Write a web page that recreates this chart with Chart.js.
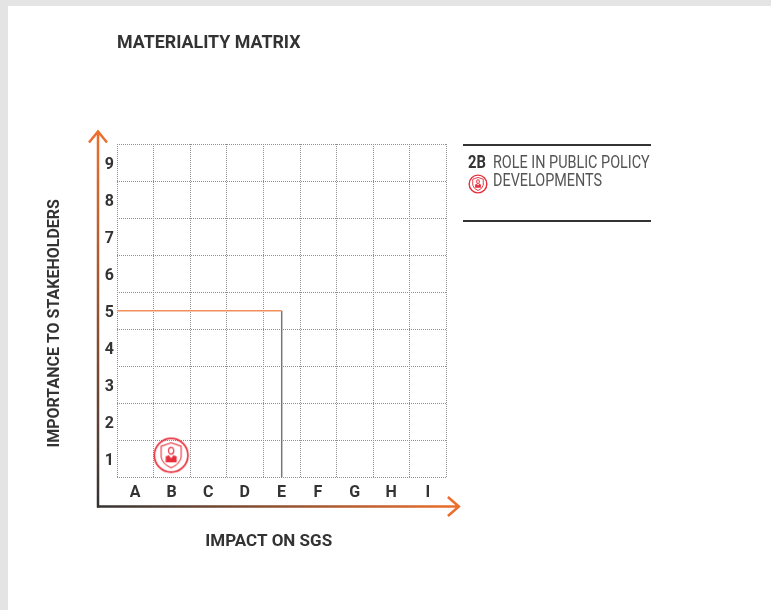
<!DOCTYPE html>
<html>
<head>
<meta charset="utf-8">
<title>Materiality Matrix</title>
<script src="https://cdn.jsdelivr.net/npm/chart.js@4"></script>
<style>
  html, body { margin: 0; padding: 0; background: #e4e4e4; overflow: hidden; }
  #sheet { position: absolute; left: 8px; top: 6px; width: 763px; height: 604px; background: #fff; }
  #matrix { position: absolute; left: 0; top: 0; }
  .txt { position: absolute; white-space: nowrap; font-family: "Roboto", sans-serif; transform-origin: left top; }
  #heading { left: 117px; top: 31px; font-size: 18px; line-height: 22px; font-weight: 700; color: #333; transform: scaleX(0.99); }
  .rule { position: absolute; left: 463px; width: 188px; height: 2px; background: #333; }
  #code { left: 468px; top: 153px; font-size: 18px; line-height: 18px; font-weight: 700; color: #333; transform: scaleX(0.82); }
  #topic { left: 493px; top: 153px; font-size: 18px; line-height: 18px; color: #555; transform: scaleX(0.8); }
  #topicIcon { position: absolute; left: 468px; top: 174px; }
</style>
</head>
<body>
<div id="sheet"></div>
<canvas id="matrix" width="771" height="610"></canvas>
<div class="txt" id="heading">MATERIALITY MATRIX</div>
<div class="rule" style="top:144px"></div>
<div class="rule" style="top:220px"></div>
<div class="txt" id="code">2B</div>
<div class="txt" id="topic">ROLE IN PUBLIC POLICY<br>DEVELOPMENTS</div>
<script>
const impactLabels = ['A', 'B', 'C', 'D', 'E', 'F', 'G', 'H', 'I'];
const importanceLabels = ['1', '2', '3', '4', '5', '6', '7', '8', '9'];
const xAxisName = 'IMPACT ON SGS';
const yAxisName = 'IMPORTANCE TO STAKEHOLDERS';

// scale runs half a cell past the first and last category
const axisMin = 0.5;
const axisMax = 9.5;
const gridValues = [0.5, 1.5, 2.5, 3.5, 4.5, 5.5, 6.5, 7.5, 8.5, 9.5];

// guide lines down to the E / 5 crossing
const guideAcrossX = [0.5, 5];
const guideAcrossY = [5, 5];
const guideDownX = [5, 5];
const guideDownY = [5, 0.5];

// issue 2B
const issueX = [1.98];
const issueY = [1.1];

const ORANGE = '#ee6f2d';
const DARK = '#333333';
const RED = '#e6303c';
const labelFont = '"Roboto", sans-serif';

function toPoints(xs, ys) {
  return xs.map((x, i) => ({ x: x, y: ys[i] }));
}

// round badge with a shield and a person inside
function makeBadge(size, weight) {
  const c = document.createElement('canvas');
  c.width = size;
  c.height = size;
  const g = c.getContext('2d');
  g.scale(size / 38, size / 38);
  g.translate(19, 19);
  g.strokeStyle = RED;
  g.fillStyle = RED;

  g.lineWidth = 1.7 * weight;
  g.beginPath();
  g.arc(0, 0, 16.8, 0, Math.PI * 2);
  g.stroke();

  g.lineWidth = 1.1 * weight;
  g.beginPath();
  g.moveTo(0, -12.5);
  g.lineTo(10, -9);
  g.lineTo(10, 2);
  g.quadraticCurveTo(8.5, 9, 0, 12.5);
  g.quadraticCurveTo(-8.5, 9, -10, 2);
  g.lineTo(-10, -9);
  g.closePath();
  g.stroke();

  g.lineWidth = 1.2 * weight;
  g.beginPath();
  g.ellipse(0, -4.5, 2.6, 3.4, 0, 0, Math.PI * 2);
  g.stroke();

  g.beginPath();
  g.moveTo(-5.5, 7);
  g.lineTo(-5.5, 1);
  g.lineTo(-2.2, 0);
  g.lineTo(0, 3);
  g.lineTo(2.2, 0);
  g.lineTo(5.5, 1);
  g.lineTo(5.5, 7);
  g.closePath();
  g.fill();
  return c;
}

// axis arrows and axis names, placed from the chart area
const axisArrows = {
  id: 'axisArrows',
  afterDraw(chart) {
    const ctx = chart.ctx;
    const a = chart.chartArea;
    const ox = a.left - 19;
    const oy = a.bottom + 29;
    const tipY = a.top - 12.5;
    const tipX = a.right + 12.5;

    ctx.save();
    ctx.lineWidth = 2.5;

    const up = ctx.createLinearGradient(0, oy, 0, tipY);
    up.addColorStop(0, DARK);
    up.addColorStop(1, ORANGE);
    ctx.strokeStyle = up;
    ctx.beginPath();
    ctx.moveTo(ox, oy + 1);
    ctx.lineTo(ox, tipY);
    ctx.moveTo(ox - 9, tipY + 11);
    ctx.lineTo(ox, tipY);
    ctx.lineTo(ox + 9, tipY + 11);
    ctx.stroke();

    const right = ctx.createLinearGradient(ox, 0, tipX, 0);
    right.addColorStop(0, DARK);
    right.addColorStop(1, ORANGE);
    ctx.strokeStyle = right;
    ctx.beginPath();
    ctx.moveTo(ox - 1, oy);
    ctx.lineTo(tipX, oy);
    ctx.moveTo(tipX - 11, oy - 9.5);
    ctx.lineTo(tipX, oy);
    ctx.lineTo(tipX - 11, oy + 9.5);
    ctx.stroke();

    ctx.fillStyle = DARK;
    ctx.textAlign = 'center';
    ctx.textBaseline = 'middle';
    ctx.font = 'bold 17px ' + labelFont;
    ctx.fillText(xAxisName, (a.left + a.right) / 2 - 13, a.bottom + 64);
    ctx.font = 'bold 16px ' + labelFont;
    ctx.translate(54.5, (a.top + a.bottom) / 2 + 12.5);
    ctx.rotate(-Math.PI / 2);
    ctx.fillText(yAxisName, 0, 0);
    ctx.restore();
  }
};

function gridTicks(scale) {
  scale.ticks = gridValues.map(v => ({ value: v }));
}

function axisOptions(labels, width, height, labelOffset, padding) {
  return {
    type: 'linear',
    min: axisMin,
    max: axisMax,
    afterBuildTicks: gridTicks,
    afterFit(scale) {
      if (width) scale.width = width;
      if (height) scale.height = height;
    },
    border: { display: false, dash: [1, 1] },
    grid: { color: '#8f8f8f', lineWidth: 1, drawTicks: false },
    ticks: {
      autoSkip: false,
      maxRotation: 0,
      padding: padding,
      labelOffset: labelOffset,
      color: DARK,
      font: { family: labelFont, size: 16, weight: 'bold' },
      callback: value => labels[Math.round(value - axisMin)] || ''
    }
  };
}

new Chart(document.getElementById('matrix'), {
  type: 'scatter',
  data: {
    datasets: [
      {
        data: toPoints(guideAcrossX, guideAcrossY),
        showLine: true,
        borderColor: '#f0905c',
        borderWidth: 1.5,
        pointRadius: 0
      },
      {
        data: toPoints(guideDownX, guideDownY),
        showLine: true,
        borderColor: '#777777',
        borderWidth: 1.5,
        pointRadius: 0
      },
      {
        data: toPoints(issueX, issueY),
        pointStyle: makeBadge(38, 1),
        pointRadius: 19
      }
    ]
  },
  options: {
    responsive: false,
    animation: false,
    layout: { padding: { left: 0, top: 144, right: 324.6, bottom: 0 } },
    plugins: { legend: { display: false }, tooltip: { enabled: false }, title: { display: false } },
    scales: {
      x: axisOptions(impactLabels, 0, 132.5, 18, 6),
      y: axisOptions(importanceLabels, 117, 0, -16.2, 3)
    }
  },
  plugins: [axisArrows]
});

const topicBadge = makeBadge(20, 1.6);
topicBadge.id = 'topicIcon';
document.body.appendChild(topicBadge);
</script>
</body>
</html>
